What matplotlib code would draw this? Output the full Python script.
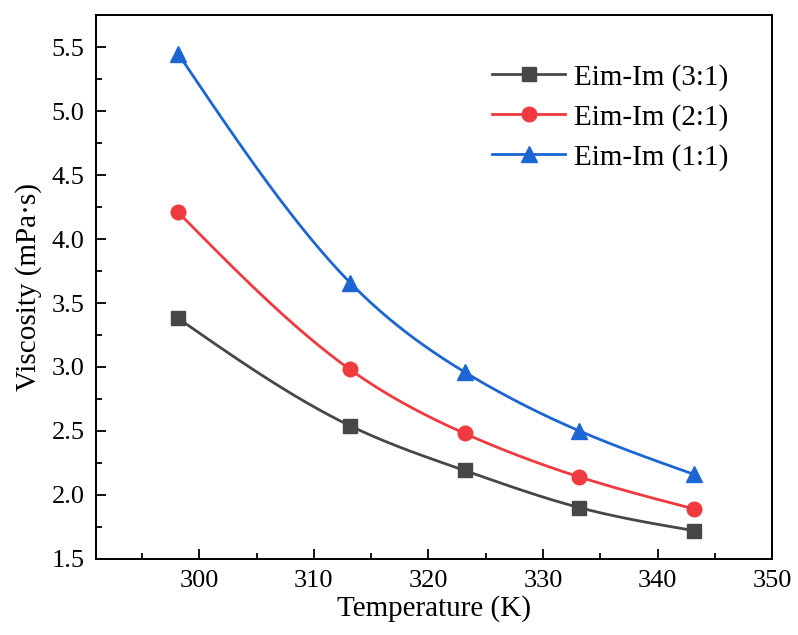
import numpy as np
import matplotlib.pyplot as plt
from matplotlib.ticker import MultipleLocator

plt.rcParams['font.family'] = ['Liberation Serif', 'DejaVu Serif']

# Data
temperature = [298.15, 313.15, 323.15, 333.15, 343.15]
visc_31 = [3.38, 2.54, 2.19, 1.90, 1.72]
visc_21 = [4.21, 2.98, 2.48, 2.14, 1.89]
visc_11 = [5.45, 3.66, 2.96, 2.50, 2.16]
labels = ['Eim-Im (3:1)', 'Eim-Im (2:1)', 'Eim-Im (1:1)']
colors = ['#474747', '#ef3a3f', '#1c66d4']
markers = ['s', 'o', '^']


def natural_spline(x, y, n=300):
    # smooth connecting line, like Origin's spline connection
    x = np.asarray(x, float)
    y = np.asarray(y, float)
    k = len(x)
    h = np.diff(x)
    A = np.zeros((k, k))
    b = np.zeros(k)
    A[0, 0] = A[-1, -1] = 1
    for i in range(1, k - 1):
        A[i, i - 1] = h[i - 1]
        A[i, i] = 2 * (h[i - 1] + h[i])
        A[i, i + 1] = h[i]
        b[i] = 6 * ((y[i + 1] - y[i]) / h[i] - (y[i] - y[i - 1]) / h[i - 1])
    M = np.linalg.solve(A, b)
    xs = np.linspace(x[0], x[-1], n)
    idx = np.clip(np.searchsorted(x, xs) - 1, 0, k - 2)
    x0, x1 = x[idx], x[idx + 1]
    hh = x1 - x0
    t0, t1 = x1 - xs, xs - x0
    ys = (M[idx] * t0**3 + M[idx + 1] * t1**3) / (6 * hh) \
        + (y[idx] / hh - M[idx] * hh / 6) * t0 \
        + (y[idx + 1] / hh - M[idx + 1] * hh / 6) * t1
    return xs, ys


fig = plt.figure(figsize=(7.98, 6.35), dpi=100)
ax = fig.add_axes([95.7 / 798, 1 - 558.7 / 635, (772.3 - 95.7) / 798, (558.7 - 14.7) / 635])

ms = {'s': 9.5, 'o': 10.5, '^': 11.5}
for vals, lab, c, m in zip([visc_31, visc_21, visc_11], labels, colors, markers):
    xs, ys = natural_spline(temperature, vals)
    ax.plot(xs, ys, color=c, lw=2.0, zorder=2)
    ax.plot(temperature, vals, linestyle='none', marker=m, color=c, ms=ms[m], zorder=3)
    ax.plot([], [], color=c, lw=2.0, marker=m, ms=ms[m], label=lab)

ax.set_xlim(290.96, 350)
ax.set_ylim(1.5, 5.755)
ax.xaxis.set_major_locator(MultipleLocator(10))
ax.xaxis.set_minor_locator(MultipleLocator(5))
ax.yaxis.set_major_locator(MultipleLocator(0.5))
ax.yaxis.set_minor_locator(MultipleLocator(0.25))
ax.tick_params(which='both', direction='in', labelsize=19, width=1.3, pad=8)
ax.tick_params(which='major', length=7)
ax.tick_params(which='minor', length=4)
for s in ax.spines.values():
    s.set_linewidth(1.4)

ax.set_xlabel('Temperature (K)', fontsize=21, labelpad=2)
ax.set_ylabel('Viscosity (mPa·s)', fontsize=21, labelpad=7)

ax.legend(loc='upper right', frameon=False, fontsize=21, handlelength=2.5,
          bbox_to_anchor=(0.935, 0.91), borderaxespad=0, borderpad=0,
          labelspacing=0.45, handletextpad=0.3)

fig.savefig('out.png', dpi=100)
